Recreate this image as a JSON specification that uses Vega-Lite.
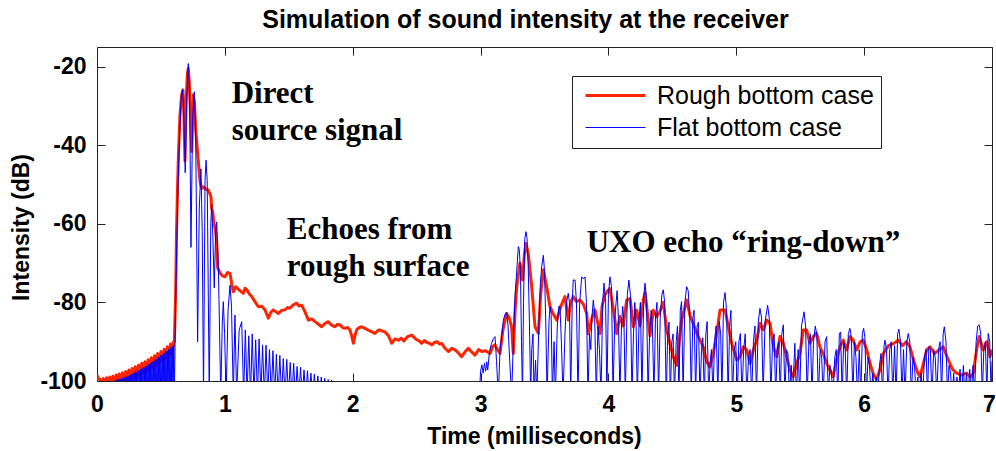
{
  "$schema": "https://vega.github.io/schema/vega-lite/v6.json",
  "width": 895,
  "height": 334,
  "autosize": {"type": "none"},
  "padding": {"left": 97, "top": 47, "right": 4, "bottom": 70},
  "background": "white",
  "title": {
    "text": "Simulation of sound intensity at the receiver",
    "font": "Liberation Sans",
    "fontSize": 25,
    "fontWeight": "bold",
    "color": "#000",
    "anchor": "middle",
    "frame": "group",
    "baseline": "alphabetic",
    "offset": -6,
    "dx": -19
  },
  "datasets": {
    "rough": [
      {"t":0.000,"db":-98.5},{"t":0.012,"db":-99.5},{"t":0.025,"db":-99.6},{"t":0.0375,"db":-101.5},
      {"t":0.050,"db":-99.4},{"t":0.0625,"db":-101.8},{"t":0.075,"db":-99.2},{"t":0.0875,"db":-101.6},
      {"t":0.100,"db":-99.0},{"t":0.1125,"db":-101.4},{"t":0.125,"db":-98.8},{"t":0.1375,"db":-101.2},
      {"t":0.150,"db":-98.5},{"t":0.1625,"db":-101.0},{"t":0.175,"db":-98.2},{"t":0.1875,"db":-100.7},
      {"t":0.200,"db":-97.9},{"t":0.2125,"db":-100.4},{"t":0.225,"db":-97.6},{"t":0.2375,"db":-100.1},
      {"t":0.250,"db":-97.2},{"t":0.2625,"db":-99.7},{"t":0.275,"db":-96.8},{"t":0.2875,"db":-99.3},
      {"t":0.300,"db":-96.4},{"t":0.3125,"db":-98.9},{"t":0.325,"db":-96.0},{"t":0.3375,"db":-98.5},
      {"t":0.350,"db":-95.5},{"t":0.3625,"db":-98.0},{"t":0.375,"db":-95.1},{"t":0.3875,"db":-97.6},
      {"t":0.400,"db":-94.6},{"t":0.4125,"db":-97.1},{"t":0.425,"db":-94.1},{"t":0.4375,"db":-96.6},
      {"t":0.450,"db":-93.6},{"t":0.4625,"db":-96.1},{"t":0.475,"db":-93.0},{"t":0.4875,"db":-95.5},
      {"t":0.500,"db":-92.5},{"t":0.5125,"db":-95.0},{"t":0.525,"db":-91.9},{"t":0.5375,"db":-94.4},
      {"t":0.550,"db":-91.3},{"t":0.5625,"db":-93.8},{"t":0.575,"db":-90.6},{"t":0.5875,"db":-93.1},
      {"t":0.600,"db":-90.0},{"t":0.605,"db":-90.0},{"t":0.616,"db":-76.4},{"t":0.622,"db":-62},
      {"t":0.631,"db":-49.3},{"t":0.638,"db":-41.6},{"t":0.649,"db":-32.3},{"t":0.662,"db":-27.2},
      {"t":0.672,"db":-25.9},{"t":0.680,"db":-32},{"t":0.688,"db":-44},{"t":0.696,"db":-30},
      {"t":0.706,"db":-22},{"t":0.714,"db":-20.4},{"t":0.722,"db":-24},{"t":0.732,"db":-33},
      {"t":0.741,"db":-41.6},{"t":0.753,"db":-27.2},{"t":0.762,"db":-29},{"t":0.772,"db":-36},
      {"t":0.780,"db":-39.1},{"t":0.792,"db":-44},{"t":0.806,"db":-49.3},{"t":0.819,"db":-51.0},
      {"t":0.835,"db":-50.6},{"t":0.850,"db":-51.2},{"t":0.870,"db":-51.4},{"t":0.885,"db":-52.5},
      {"t":0.892,"db":-53.2},{"t":0.897,"db":-56.1},{"t":0.905,"db":-57},{"t":0.915,"db":-60},
      {"t":0.925,"db":-61},{"t":0.936,"db":-64.5},{"t":0.944,"db":-71.2},{"t":0.962,"db":-72.5},
      {"t":0.980,"db":-73.2},{"t":1.001,"db":-73.5},{"t":1.020,"db":-72.4},{"t":1.040,"db":-72.6},
      {"t":1.055,"db":-75.5},{"t":1.066,"db":-77.3},{"t":1.085,"db":-76.0},{"t":1.105,"db":-76.6},
      {"t":1.125,"db":-77.2},{"t":1.144,"db":-77.7},{"t":1.158,"db":-76.4},{"t":1.171,"db":-76.7},
      {"t":1.190,"db":-77.8},{"t":1.210,"db":-78.5},{"t":1.235,"db":-79.8},{"t":1.262,"db":-81.1},
      {"t":1.290,"db":-81.0},{"t":1.314,"db":-81.9},{"t":1.340,"db":-84.0},{"t":1.360,"db":-82.5},
      {"t":1.379,"db":-81.9},{"t":1.400,"db":-82.4},{"t":1.418,"db":-82.8},{"t":1.445,"db":-82.0},
      {"t":1.470,"db":-81.9},{"t":1.490,"db":-81.3},{"t":1.509,"db":-81.5},{"t":1.535,"db":-80.6},
      {"t":1.562,"db":-80.2},{"t":1.580,"db":-80.9},{"t":1.601,"db":-80.7},{"t":1.627,"db":-82.4},
      {"t":1.653,"db":-84.5},{"t":1.680,"db":-84.2},{"t":1.705,"db":-84.9},{"t":1.730,"db":-85.5},
      {"t":1.757,"db":-86.2},{"t":1.785,"db":-85.3},{"t":1.809,"db":-84.9},{"t":1.835,"db":-85.8},
      {"t":1.861,"db":-86.2},{"t":1.880,"db":-85.6},{"t":1.900,"db":-85.7},{"t":1.920,"db":-86.4},
      {"t":1.939,"db":-86.6},{"t":1.960,"db":-86.4},{"t":1.978,"db":-87.0},{"t":1.992,"db":-88.5},
      {"t":2.005,"db":-90.4},{"t":2.018,"db":-88.4},{"t":2.031,"db":-87.0},{"t":2.050,"db":-86.4},
      {"t":2.070,"db":-86.2},{"t":2.096,"db":-86.6},{"t":2.130,"db":-87.2},{"t":2.155,"db":-87.6},
      {"t":2.174,"db":-87.9},{"t":2.195,"db":-87.2},{"t":2.210,"db":-87.0},{"t":2.232,"db":-87.3},
      {"t":2.252,"db":-87.5},{"t":2.280,"db":-88.5},{"t":2.305,"db":-90.4},{"t":2.330,"db":-89.3},
      {"t":2.357,"db":-89.6},{"t":2.380,"db":-89.1},{"t":2.400,"db":-89.8},{"t":2.430,"db":-88.7},
      {"t":2.461,"db":-88.3},{"t":2.480,"db":-88.9},{"t":2.500,"db":-89.5},{"t":2.520,"db":-89.8},
      {"t":2.540,"db":-90.4},{"t":2.560,"db":-89.7},{"t":2.580,"db":-90.2},{"t":2.600,"db":-90.4},
      {"t":2.618,"db":-90.8},{"t":2.640,"db":-90.2},{"t":2.660,"db":-90.0},{"t":2.680,"db":-90.6},
      {"t":2.696,"db":-90.4},{"t":2.720,"db":-91.6},{"t":2.748,"db":-92.5},{"t":2.775,"db":-91.7},
      {"t":2.800,"db":-92.1},{"t":2.825,"db":-92.8},{"t":2.852,"db":-93.8},{"t":2.880,"db":-92.5},
      {"t":2.904,"db":-91.7},{"t":2.930,"db":-92.6},{"t":2.956,"db":-93.4},{"t":2.985,"db":-92.0},
      {"t":3.009,"db":-92.5},{"t":3.040,"db":-92.3},{"t":3.074,"db":-93.0},{"t":3.095,"db":-91.2},
      {"t":3.113,"db":-90.8},{"t":3.135,"db":-92.2},{"t":3.152,"db":-93.0},{"t":3.175,"db":-87},
      {"t":3.204,"db":-82.8},{"t":3.225,"db":-84},{"t":3.243,"db":-86.2},{"t":3.256,"db":-93.0},
      {"t":3.270,"db":-82},{"t":3.283,"db":-76.0},{"t":3.308,"db":-70.0},{"t":3.329,"db":-74.3},
      {"t":3.342,"db":-68},{"t":3.355,"db":-65.0},{"t":3.373,"db":-67.5},{"t":3.400,"db":-76.0},
      {"t":3.426,"db":-86.2},{"t":3.452,"db":-87.9},{"t":3.470,"db":-78},{"t":3.491,"db":-71.7},
      {"t":3.517,"db":-76.0},{"t":3.543,"db":-81.1},{"t":3.570,"db":-83},{"t":3.595,"db":-84.5},
      {"t":3.628,"db":-81},{"t":3.660,"db":-78.5},{"t":3.686,"db":-84.5},{"t":3.705,"db":-80},
      {"t":3.725,"db":-78.5},{"t":3.750,"db":-79.8},{"t":3.778,"db":-79.4},{"t":3.805,"db":-80.5},
      {"t":3.830,"db":-82.8},{"t":3.843,"db":-88},{"t":3.856,"db":-86.2},{"t":3.875,"db":-83.6},
      {"t":3.895,"db":-81.9},{"t":3.915,"db":-85},{"t":3.934,"db":-87.9},{"t":3.950,"db":-81},
      {"t":3.973,"db":-78.0},{"t":3.995,"db":-77},{"t":4.012,"db":-76.5},{"t":4.040,"db":-82},
      {"t":4.065,"db":-87.9},{"t":4.090,"db":-83.6},{"t":4.116,"db":-86},{"t":4.143,"db":-79.4},
      {"t":4.169,"db":-79},{"t":4.195,"db":-86.2},{"t":4.221,"db":-82},{"t":4.247,"db":-86},
      {"t":4.273,"db":-79.4},{"t":4.286,"db":-77.5},{"t":4.310,"db":-84},{"t":4.325,"db":-88.5},
      {"t":4.351,"db":-82},{"t":4.377,"db":-83.6},{"t":4.400,"db":-82.5},{"t":4.429,"db":-80},
      {"t":4.456,"db":-87},{"t":4.481,"db":-90.4},{"t":4.507,"db":-93.8},{"t":4.534,"db":-96.0},
      {"t":4.560,"db":-88},{"t":4.573,"db":-84.5},{"t":4.612,"db":-79.4},{"t":4.640,"db":-83.6},
      {"t":4.670,"db":-86},{"t":4.700,"db":-88.5},{"t":4.742,"db":-91.3},{"t":4.768,"db":-95},
      {"t":4.794,"db":-96.4},{"t":4.820,"db":-93},{"t":4.847,"db":-87.9},{"t":4.873,"db":-81.9},
      {"t":4.912,"db":-81.9},{"t":4.938,"db":-86.2},{"t":4.964,"db":-90.4},{"t":5.004,"db":-94.7},
      {"t":5.030,"db":-93.8},{"t":5.055,"db":-91.3},{"t":5.082,"db":-92.1},{"t":5.108,"db":-95.5},
      {"t":5.134,"db":-92.1},{"t":5.160,"db":-89.6},{"t":5.186,"db":-85.3},{"t":5.212,"db":-87.0},
      {"t":5.238,"db":-84.5},{"t":5.264,"db":-85.3},{"t":5.290,"db":-91.3},{"t":5.316,"db":-93.8},
      {"t":5.342,"db":-88.7},{"t":5.368,"db":-90.4},{"t":5.394,"db":-93.8},{"t":5.420,"db":-97.2},
      {"t":5.446,"db":-98.9},{"t":5.472,"db":-95.5},{"t":5.498,"db":-93.0},{"t":5.524,"db":-87.0},
      {"t":5.550,"db":-87.0},{"t":5.576,"db":-90.4},{"t":5.602,"db":-88.7},{"t":5.628,"db":-87.9},
      {"t":5.654,"db":-91.3},{"t":5.680,"db":-93.0},{"t":5.706,"db":-95.5},{"t":5.732,"db":-97.2},
      {"t":5.758,"db":-98.9},{"t":5.784,"db":-94.7},{"t":5.811,"db":-91.3},{"t":5.837,"db":-89.6},
      {"t":5.863,"db":-92.1},{"t":5.889,"db":-88.7},{"t":5.915,"db":-89.6},{"t":5.941,"db":-92.1},
      {"t":5.970,"db":-90},{"t":5.993,"db":-89.6},{"t":6.020,"db":-92},{"t":6.050,"db":-96},
      {"t":6.075,"db":-98.5},{"t":6.098,"db":-99.5},{"t":6.125,"db":-97},{"t":6.150,"db":-93},
      {"t":6.190,"db":-91},{"t":6.230,"db":-90.5},{"t":6.267,"db":-89.6},{"t":6.300,"db":-91},
      {"t":6.330,"db":-90},{"t":6.358,"db":-91.3},{"t":6.390,"db":-95},{"t":6.420,"db":-98},
      {"t":6.437,"db":-98.9},{"t":6.460,"db":-96},{"t":6.490,"db":-92},{"t":6.515,"db":-91.3},
      {"t":6.550,"db":-93},{"t":6.590,"db":-92},{"t":6.619,"db":-91.3},{"t":6.650,"db":-94},
      {"t":6.690,"db":-97},{"t":6.723,"db":-98.0},{"t":6.760,"db":-98.5},{"t":6.802,"db":-98},
      {"t":6.830,"db":-99},{"t":6.854,"db":-98},{"t":6.880,"db":-92},{"t":6.900,"db":-88.7},
      {"t":6.932,"db":-92.1},{"t":6.960,"db":-90},{"t":6.984,"db":-93.8},{"t":7.000,"db":-92}
    ],
    "flat": [
      {"t":0,"db":-104},
      {"t":0.15,"db":-99.8},{"t":0.155,"db":-104},{"t":0.16,"db":-99.6},{"t":0.165,"db":-104},
      {"t":0.17,"db":-99.7},{"t":0.175,"db":-104},{"t":0.18,"db":-99.4},{"t":0.185,"db":-104},
      {"t":0.19,"db":-99.5},{"t":0.195,"db":-104},{"t":0.20,"db":-99.2},{"t":0.205,"db":-104},
      {"t":0.21,"db":-99.3},{"t":0.215,"db":-104},{"t":0.22,"db":-98.9},{"t":0.225,"db":-104},
      {"t":0.23,"db":-99.0},{"t":0.235,"db":-104},{"t":0.24,"db":-98.7},{"t":0.245,"db":-104},
      {"t":0.25,"db":-98.7},{"t":0.255,"db":-104},{"t":0.26,"db":-98.4},{"t":0.265,"db":-104},
      {"t":0.27,"db":-98.4},{"t":0.275,"db":-104},{"t":0.28,"db":-98.1},{"t":0.285,"db":-104},
      {"t":0.29,"db":-98.1},{"t":0.295,"db":-104},{"t":0.30,"db":-97.7},{"t":0.305,"db":-104},
      {"t":0.31,"db":-97.7},{"t":0.315,"db":-104},{"t":0.32,"db":-97.4},{"t":0.325,"db":-104},
      {"t":0.33,"db":-97.4},{"t":0.335,"db":-104},{"t":0.34,"db":-97.0},{"t":0.345,"db":-104},
      {"t":0.35,"db":-97.0},{"t":0.355,"db":-104},{"t":0.36,"db":-96.6},{"t":0.365,"db":-104},
      {"t":0.37,"db":-96.6},{"t":0.375,"db":-104},{"t":0.38,"db":-96.2},{"t":0.385,"db":-104},
      {"t":0.39,"db":-96.2},{"t":0.395,"db":-104},{"t":0.40,"db":-95.8},{"t":0.405,"db":-104},
      {"t":0.41,"db":-95.8},{"t":0.415,"db":-104},{"t":0.42,"db":-95.4},{"t":0.425,"db":-104},
      {"t":0.43,"db":-95.3},{"t":0.435,"db":-104},{"t":0.44,"db":-94.9},{"t":0.445,"db":-104},
      {"t":0.45,"db":-94.9},{"t":0.455,"db":-104},{"t":0.46,"db":-94.4},{"t":0.465,"db":-104},
      {"t":0.47,"db":-94.4},{"t":0.475,"db":-104},{"t":0.48,"db":-93.9},{"t":0.485,"db":-104},
      {"t":0.49,"db":-93.9},{"t":0.495,"db":-104},{"t":0.50,"db":-93.4},{"t":0.505,"db":-104},
      {"t":0.51,"db":-93.4},{"t":0.515,"db":-104},{"t":0.52,"db":-92.9},{"t":0.525,"db":-104},
      {"t":0.53,"db":-92.9},{"t":0.535,"db":-104},{"t":0.54,"db":-92.4},{"t":0.545,"db":-104},
      {"t":0.55,"db":-92.4},{"t":0.555,"db":-104},{"t":0.56,"db":-91.9},{"t":0.565,"db":-104},
      {"t":0.57,"db":-91.9},{"t":0.575,"db":-104},{"t":0.58,"db":-91.4},{"t":0.585,"db":-104},
      {"t":0.59,"db":-91.3},{"t":0.595,"db":-104},{"t":0.60,"db":-90.8},{"t":0.605,"db":-104},
      {"t":0.615,"db":-80},{"t":0.630,"db":-55},{"t":0.645,"db":-38},{"t":0.658,"db":-28},
      {"t":0.668,"db":-25.9},{"t":0.678,"db":-31},{"t":0.690,"db":-47},{"t":0.702,"db":-28},
      {"t":0.714,"db":-19.2},{"t":0.724,"db":-27},{"t":0.735,"db":-66},{"t":0.748,"db":-33},
      {"t":0.761,"db":-26.4},{"t":0.772,"db":-38},{"t":0.787,"db":-90},{"t":0.800,"db":-56},
      {"t":0.813,"db":-46},{"t":0.823,"db":-62},{"t":0.833,"db":-104},{"t":0.845,"db":-49},
      {"t":0.853,"db":-43.8},{"t":0.862,"db":-49},{"t":0.878,"db":-104},{"t":0.890,"db":-60},
      {"t":0.897,"db":-55.2},{"t":0.906,"db":-63},{"t":0.917,"db":-76.3},{"t":0.928,"db":-62},
      {"t":0.936,"db":-59.5},{"t":0.950,"db":-72},{"t":0.968,"db":-104},{"t":0.980,"db":-85},
      {"t":0.988,"db":-79.8},{"t":0.998,"db":-88},{"t":1.010,"db":-104},{"t":1.025,"db":-82},
      {"t":1.040,"db":-75.6},{"t":1.052,"db":-81},{"t":1.066,"db":-104},{"t":1.079,"db":-83.2},
      {"t":1.092,"db":-104},{"t":1.112,"db":-87},{"t":1.132,"db":-84.9},{"t":1.147,"db":-104},
      {"t":1.160,"db":-87.0},{"t":1.174,"db":-104},{"t":1.187,"db":-88.5},{"t":1.201,"db":-104},
      {"t":1.214,"db":-88.0},{"t":1.228,"db":-104},{"t":1.241,"db":-89.5},{"t":1.255,"db":-104},
      {"t":1.268,"db":-89.3},{"t":1.282,"db":-104},{"t":1.295,"db":-90.8},{"t":1.309,"db":-104},
      {"t":1.322,"db":-90.9},{"t":1.336,"db":-104},{"t":1.349,"db":-92.0},{"t":1.363,"db":-104},
      {"t":1.376,"db":-92.3},{"t":1.390,"db":-104},{"t":1.403,"db":-93.2},{"t":1.417,"db":-104},
      {"t":1.430,"db":-93.5},{"t":1.444,"db":-104},{"t":1.457,"db":-94.3},{"t":1.471,"db":-104},
      {"t":1.484,"db":-94.5},{"t":1.498,"db":-104},{"t":1.511,"db":-95.3},{"t":1.525,"db":-104},
      {"t":1.538,"db":-95.5},{"t":1.552,"db":-104},{"t":1.565,"db":-96.3},{"t":1.579,"db":-104},
      {"t":1.592,"db":-96.5},{"t":1.606,"db":-104},{"t":1.619,"db":-97.2},{"t":1.633,"db":-104},
      {"t":1.646,"db":-97.4},{"t":1.660,"db":-104},{"t":1.673,"db":-98.0},{"t":1.687,"db":-104},
      {"t":1.700,"db":-98.2},{"t":1.714,"db":-104},{"t":1.727,"db":-98.7},{"t":1.741,"db":-104},
      {"t":1.754,"db":-99.0},{"t":1.768,"db":-104},{"t":1.781,"db":-99.3},{"t":1.795,"db":-104},
      {"t":1.808,"db":-99.6},{"t":1.822,"db":-104},{"t":1.835,"db":-99.8},{"t":1.849,"db":-104},
      {"t":2.990,"db":-104},{"t":3.000,"db":-97.5},{"t":3.010,"db":-95.9},{"t":3.020,"db":-98},
      {"t":3.030,"db":-95.5},{"t":3.040,"db":-97.5},{"t":3.048,"db":-95.1},{"t":3.056,"db":-97.2},
      {"t":3.070,"db":-92.5},{"t":3.085,"db":-90.5},{"t":3.100,"db":-89.2},{"t":3.113,"db":-88.7},
      {"t":3.125,"db":-95},{"t":3.139,"db":-104},{"t":3.152,"db":-92},{"t":3.165,"db":-88.7},
      {"t":3.178,"db":-84.5},{"t":3.192,"db":-83},{"t":3.204,"db":-82.5},{"t":3.215,"db":-86},
      {"t":3.228,"db":-95},{"t":3.243,"db":-104},{"t":3.256,"db":-90},{"t":3.270,"db":-78},
      {"t":3.283,"db":-72},{"t":3.295,"db":-65.8},{"t":3.303,"db":-66.5},{"t":3.312,"db":-72},
      {"t":3.320,"db":-90},{"t":3.328,"db":-104},{"t":3.336,"db":-80},{"t":3.345,"db":-64},
      {"t":3.355,"db":-62.0},{"t":3.363,"db":-63.5},{"t":3.372,"db":-70},{"t":3.382,"db":-85},
      {"t":3.392,"db":-104},{"t":3.400,"db":-92},{"t":3.410,"db":-88},{"t":3.418,"db":-104},
      {"t":3.430,"db":-94.7},{"t":3.440,"db":-104},{"t":3.455,"db":-87},{"t":3.468,"db":-75},
      {"t":3.478,"db":-70.9},{"t":3.491,"db":-68.0},{"t":3.500,"db":-72},{"t":3.510,"db":-85},
      {"t":3.520,"db":-104},{"t":3.535,"db":-85},{"t":3.543,"db":-81.1},{"t":3.552,"db":-83},
      {"t":3.562,"db":-104},{"t":3.575,"db":-90},{"t":3.585,"db":-104},{"t":3.600,"db":-86},
      {"t":3.612,"db":-81},{"t":3.621,"db":-81.1},{"t":3.632,"db":-90},{"t":3.645,"db":-104},
      {"t":3.660,"db":-88},{"t":3.672,"db":-80},{"t":3.686,"db":-77.7},{"t":3.695,"db":-80},
      {"t":3.705,"db":-104},{"t":3.717,"db":-80},{"t":3.725,"db":-74.3},{"t":3.739,"db":-74.3},
      {"t":3.750,"db":-80},{"t":3.762,"db":-104},{"t":3.775,"db":-80},{"t":3.791,"db":-73.5},
      {"t":3.805,"db":-74},{"t":3.817,"db":-73.5},{"t":3.828,"db":-80},{"t":3.840,"db":-104},
      {"t":3.852,"db":-88},{"t":3.862,"db":-92},{"t":3.870,"db":-84},{"t":3.882,"db":-79.4},
      {"t":3.892,"db":-83},{"t":3.905,"db":-104},{"t":3.918,"db":-86},{"t":3.930,"db":-92},
      {"t":3.942,"db":-104},{"t":3.955,"db":-80},{"t":3.965,"db":-75.1},{"t":3.978,"db":-80},
      {"t":3.988,"db":-104},{"t":4.000,"db":-78},{"t":4.012,"db":-73.5},{"t":4.024,"db":-76},
      {"t":4.036,"db":-104},{"t":4.050,"db":-84},{"t":4.060,"db":-80},{"t":4.068,"db":-77},
      {"t":4.078,"db":-84},{"t":4.090,"db":-104},{"t":4.102,"db":-86},{"t":4.112,"db":-81},
      {"t":4.122,"db":-86},{"t":4.132,"db":-104},{"t":4.148,"db":-78},{"t":4.160,"db":-74.3},
      {"t":4.172,"db":-78},{"t":4.184,"db":-104},{"t":4.196,"db":-88},{"t":4.206,"db":-80},
      {"t":4.216,"db":-85},{"t":4.226,"db":-104},{"t":4.240,"db":-84},{"t":4.250,"db":-80},
      {"t":4.262,"db":-104},{"t":4.276,"db":-79},{"t":4.286,"db":-75.1},{"t":4.298,"db":-79},
      {"t":4.310,"db":-104},{"t":4.322,"db":-88},{"t":4.334,"db":-82},{"t":4.344,"db":-86},
      {"t":4.356,"db":-104},{"t":4.368,"db":-84},{"t":4.380,"db":-80},{"t":4.392,"db":-104},
      {"t":4.405,"db":-84},{"t":4.418,"db":-78},{"t":4.429,"db":-76.8},{"t":4.440,"db":-80},
      {"t":4.452,"db":-104},{"t":4.464,"db":-88},{"t":4.474,"db":-85},{"t":4.484,"db":-104},
      {"t":4.496,"db":-90},{"t":4.506,"db":-88},{"t":4.516,"db":-104},{"t":4.530,"db":-90},
      {"t":4.540,"db":-86},{"t":4.552,"db":-104},{"t":4.562,"db":-82},{"t":4.572,"db":-79.8},
      {"t":4.584,"db":-104},{"t":4.598,"db":-80},{"t":4.612,"db":-76.0},{"t":4.624,"db":-77},
      {"t":4.636,"db":-84},{"t":4.648,"db":-104},{"t":4.660,"db":-84},{"t":4.670,"db":-82},
      {"t":4.682,"db":-104},{"t":4.694,"db":-86},{"t":4.704,"db":-85},{"t":4.716,"db":-104},
      {"t":4.728,"db":-92},{"t":4.738,"db":-89},{"t":4.750,"db":-104},{"t":4.762,"db":-88},
      {"t":4.772,"db":-84.9},{"t":4.784,"db":-104},{"t":4.796,"db":-95},{"t":4.806,"db":-92},
      {"t":4.818,"db":-104},{"t":4.830,"db":-90},{"t":4.842,"db":-86},{"t":4.856,"db":-104},
      {"t":4.867,"db":-84.9},{"t":4.878,"db":-88},{"t":4.888,"db":-104},{"t":4.900,"db":-80},
      {"t":4.912,"db":-77.5},{"t":4.924,"db":-82},{"t":4.936,"db":-104},{"t":4.948,"db":-86},
      {"t":4.958,"db":-82},{"t":4.970,"db":-104},{"t":4.984,"db":-92},{"t":4.996,"db":-90},
      {"t":5.008,"db":-104},{"t":5.020,"db":-90},{"t":5.032,"db":-87.9},{"t":5.044,"db":-104},
      {"t":5.058,"db":-92},{"t":5.070,"db":-88},{"t":5.082,"db":-104},{"t":5.096,"db":-94},
      {"t":5.108,"db":-92},{"t":5.120,"db":-104},{"t":5.134,"db":-90},{"t":5.146,"db":-86},
      {"t":5.158,"db":-104},{"t":5.172,"db":-85},{"t":5.185,"db":-81.5},{"t":5.198,"db":-84},
      {"t":5.210,"db":-104},{"t":5.225,"db":-85},{"t":5.245,"db":-80.7},{"t":5.258,"db":-84},
      {"t":5.270,"db":-104},{"t":5.284,"db":-90},{"t":5.296,"db":-88},{"t":5.308,"db":-104},
      {"t":5.320,"db":-92},{"t":5.332,"db":-90},{"t":5.344,"db":-104},{"t":5.356,"db":-88},
      {"t":5.368,"db":-85.7},{"t":5.380,"db":-104},{"t":5.392,"db":-92},{"t":5.404,"db":-93},
      {"t":5.416,"db":-104},{"t":5.430,"db":-96},{"t":5.440,"db":-104},{"t":5.458,"db":-90.4},
      {"t":5.470,"db":-104},{"t":5.484,"db":-92},{"t":5.496,"db":-104},{"t":5.510,"db":-86},
      {"t":5.530,"db":-82.4},{"t":5.542,"db":-86},{"t":5.554,"db":-104},{"t":5.568,"db":-90},
      {"t":5.580,"db":-88},{"t":5.592,"db":-104},{"t":5.604,"db":-90},{"t":5.618,"db":-86},
      {"t":5.630,"db":-88.3},{"t":5.642,"db":-104},{"t":5.656,"db":-92},{"t":5.668,"db":-94},
      {"t":5.680,"db":-104},{"t":5.694,"db":-90},{"t":5.707,"db":-88.7},{"t":5.720,"db":-104},
      {"t":5.732,"db":-96},{"t":5.744,"db":-98},{"t":5.756,"db":-104},{"t":5.770,"db":-94},
      {"t":5.782,"db":-92},{"t":5.794,"db":-104},{"t":5.806,"db":-88},{"t":5.816,"db":-87.5},
      {"t":5.828,"db":-104},{"t":5.840,"db":-90},{"t":5.852,"db":-92},{"t":5.864,"db":-104},
      {"t":5.876,"db":-88},{"t":5.889,"db":-86.6},{"t":5.900,"db":-89},{"t":5.912,"db":-104},
      {"t":5.924,"db":-90},{"t":5.936,"db":-94},{"t":5.948,"db":-104},{"t":5.962,"db":-92},
      {"t":5.974,"db":-104},{"t":5.986,"db":-88},{"t":5.996,"db":-86.6},{"t":6.006,"db":-89},
      {"t":6.018,"db":-104},{"t":6.030,"db":-94},{"t":6.042,"db":-96},{"t":6.054,"db":-104},
      {"t":6.068,"db":-98},{"t":6.080,"db":-104},{"t":6.094,"db":-99},{"t":6.106,"db":-104},
      {"t":6.120,"db":-96},{"t":6.132,"db":-93},{"t":6.144,"db":-104},{"t":6.156,"db":-91},
      {"t":6.163,"db":-89.6},{"t":6.175,"db":-92},{"t":6.187,"db":-104},{"t":6.200,"db":-92},
      {"t":6.212,"db":-90},{"t":6.224,"db":-104},{"t":6.238,"db":-91},{"t":6.250,"db":-104},
      {"t":6.262,"db":-88},{"t":6.272,"db":-86.8},{"t":6.284,"db":-90},{"t":6.296,"db":-104},
      {"t":6.308,"db":-92},{"t":6.320,"db":-104},{"t":6.334,"db":-90},{"t":6.345,"db":-87.9},
      {"t":6.357,"db":-90},{"t":6.369,"db":-104},{"t":6.382,"db":-94},{"t":6.394,"db":-96},
      {"t":6.406,"db":-104},{"t":6.420,"db":-99},{"t":6.432,"db":-104},{"t":6.446,"db":-98},
      {"t":6.458,"db":-104},{"t":6.472,"db":-94},{"t":6.484,"db":-92},{"t":6.496,"db":-104},
      {"t":6.506,"db":-91.3},{"t":6.518,"db":-92},{"t":6.530,"db":-104},{"t":6.544,"db":-92},
      {"t":6.556,"db":-94},{"t":6.568,"db":-104},{"t":6.582,"db":-92},{"t":6.594,"db":-90},
      {"t":6.606,"db":-104},{"t":6.618,"db":-88},{"t":6.627,"db":-86.2},{"t":6.640,"db":-90},
      {"t":6.652,"db":-104},{"t":6.664,"db":-96},{"t":6.676,"db":-98},{"t":6.688,"db":-104},
      {"t":6.700,"db":-98},{"t":6.712,"db":-104},{"t":6.726,"db":-99},{"t":6.738,"db":-104},
      {"t":6.750,"db":-97},{"t":6.762,"db":-104},{"t":6.776,"db":-96},{"t":6.788,"db":-104},
      {"t":6.800,"db":-98},{"t":6.812,"db":-104},{"t":6.826,"db":-97},{"t":6.838,"db":-104},
      {"t":6.852,"db":-96},{"t":6.864,"db":-104},{"t":6.876,"db":-90},{"t":6.888,"db":-86},
      {"t":6.900,"db":-85.7},{"t":6.912,"db":-88},{"t":6.924,"db":-104},{"t":6.936,"db":-92},
      {"t":6.948,"db":-90},{"t":6.960,"db":-104},{"t":6.970,"db":-87.9},{"t":6.982,"db":-90},
      {"t":6.994,"db":-104},{"t":7.000,"db":-95}
    ],
    "notes": [
      {"t":1.053,"db":-29.24,"label":"Direct"},
      {"t":1.053,"db":-38.66,"label":"source signal"},
      {"t":1.484,"db":-63.86,"label":"Echoes from"},
      {"t":1.484,"db":-73.28,"label":"rough surface"},
      {"t":3.83,"db":-67.17,"label":"UXO echo “ring-down”"}
    ]
  },
  "layer": [
    {
      "data": {"name": "rough"},
      "mark": {"type": "line", "clip": true, "strokeWidth": 3, "strokeJoin": "round"},
      "encoding": {
        "x": {
          "field": "t", "type": "quantitative",
          "scale": {"domain": [0, 7], "nice": false, "zero": false},
          "axis": {
            "orient": "bottom",
            "values": [0, 1, 2, 3, 4, 5, 6, 7],
            "labelExpr": "'' + datum.value",
            "labelFlush": false,
            "labelOffset": {"condition": {"test": "datum.value === 7", "value": -3}, "value": 0},
            "labelPadding": 20,
            "title": "Time (milliseconds)",
            "titleX": 437,
            "titleY": 62,
            "titleBaseline": "alphabetic"
          }
        },
        "y": {
          "field": "db", "type": "quantitative",
          "scale": {"domain": [-100, -15], "nice": false, "zero": false},
          "axis": {
            "orient": "left",
            "values": [-100, -80, -60, -40, -20],
            "labelExpr": "'' + datum.value",
            "labelFlush": false,
            "labelPadding": 19,
            "title": "Intensity (dB)",
            "titleAngle": 270,
            "titleX": -69,
            "titleY": 180,
            "titleAlign": "center",
            "titleBaseline": "alphabetic"
          }
        },
        "color": {
          "datum": "Rough bottom case",
          "type": "nominal",
          "scale": {"domain": ["Rough bottom case", "Flat bottom case"], "range": ["#ff2400", "#0000ff"]},
          "legend": {
            "title": null,
            "orient": "none",
            "legendX": 475,
            "legendY": 29,
            "direction": "vertical",
            "strokeColor": "#222",
            "fillColor": "#ffffff",
            "padding": 7,
            "symbolType": "M-1,0H5",
            "symbolSize": 400,
            "symbolOffset": 4,
            "labelFont": "Liberation Sans",
            "labelFontSize": 25,
            "labelColor": "#000",
            "labelOffset": 49,
            "labelLimit": 0,
            "rowPadding": 6,
            "encode": {
              "symbols": {
                "update": {
                  "strokeWidth": {"signal": "datum.value === 'Rough bottom case' ? 3 : 1"}
                }
              }
            }
          }
        }
      }
    },
    {
      "data": {"name": "flat"},
      "mark": {"type": "line", "clip": true, "strokeWidth": 1, "strokeJoin": "round"},
      "encoding": {
        "x": {
          "field": "t", "type": "quantitative",
          "axis": {"orient": "top", "values": [0, 1, 2, 3, 4, 5, 6, 7], "labels": false, "title": null}
        },
        "y": {
          "field": "db", "type": "quantitative",
          "axis": {"orient": "right", "values": [-100, -80, -60, -40, -20], "labels": false, "title": null}
        },
        "color": {"datum": "Flat bottom case", "type": "nominal"}
      }
    },
    {
      "data": {"name": "notes"},
      "mark": {
        "type": "text", "align": "left", "baseline": "alphabetic",
        "font": "Liberation Serif", "fontWeight": "bold", "fontSize": 31, "color": "#000"
      },
      "encoding": {
        "x": {"field": "t", "type": "quantitative", "axis": null},
        "y": {"field": "db", "type": "quantitative", "axis": null},
        "text": {"field": "label"}
      }
    }
  ],
  "resolve": {"axis": {"x": "independent", "y": "independent"}},
  "config": {
    "view": {"stroke": "#222", "strokeWidth": 1},
    "axis": {
      "domain": false,
      "grid": false,
      "ticks": true,
      "tickColor": "#222",
      "tickSize": -8,
      "tickWidth": 1,
      "labelFont": "Liberation Sans",
      "labelFontWeight": "bold",
      "labelFontSize": 23,
      "labelColor": "#000",
      "titleFont": "Liberation Sans",
      "titleFontWeight": "bold",
      "titleFontSize": 23,
      "titleColor": "#000"
    }
  }
}
